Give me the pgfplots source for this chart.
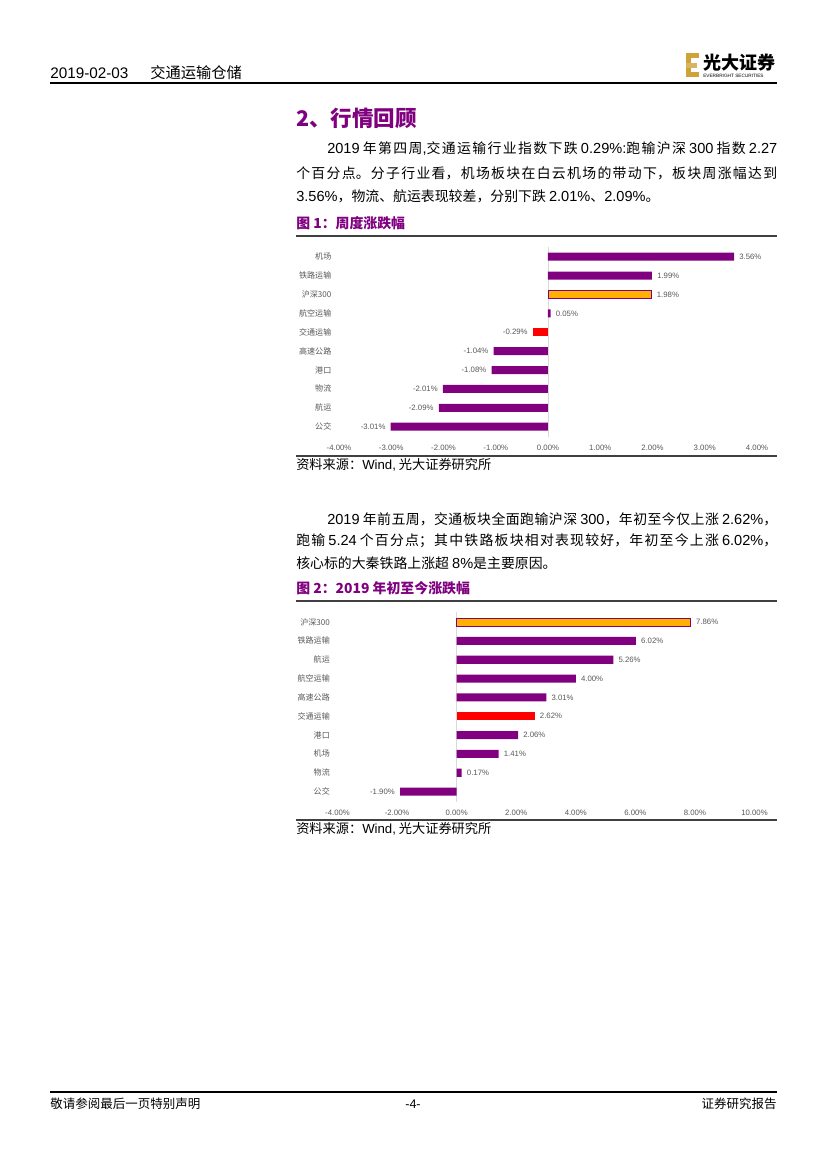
\documentclass[border=0pt]{standalone}
\usepackage{fontspec}
\setmainfont{Liberation Sans}
\newfontfamily\cjk{Noto Sans CJK SC}
\newfontfamily\lat{Liberation Sans}
\usepackage{pgfplots}
\pgfplotsset{compat=1.18}
\XeTeXlinebreaklocale "zh"
\XeTeXlinebreakskip=0pt plus 1fil

\definecolor{pur}{RGB}{128,0,128}
\definecolor{amber}{RGB}{255,176,0}
\definecolor{bred}{RGB}{255,0,0}
\definecolor{gold}{RGB}{206,163,56}
\definecolor{lbl}{RGB}{89,89,89}

\newdimen\pxu \pxu=0.72pt
% one justified line of body text: x, y, width, text
\newcommand\jl[4]{\node[body] at (#1,#2) {\parbox[b]{#3\pxu}{\parfillskip=0pt\relax #4}};}
% Latin numbers in the body text
\newcommand\N[1]{{\lat\fontsize{10.5}{12}\selectfont #1}}

\pgfplotsset{
  barchart/.style={
    xbar, bar width=5.8pt, bar shift=0pt,
    scale only axis, anchor=south west,
    axis line style={draw=none},
    major tick length=0pt,
    y dir=reverse,
    ytick={0,...,9}, ymin=-0.53, ymax=9.53,
    yticklabel style={font=\cjk\fontsize{5.8}{6}\selectfont, text=lbl, xshift=-2pt},
    xticklabel style={font=\fontsize{5.6}{6}\selectfont, text=lbl, yshift=-2.5pt},
    xticklabel={\pgfmathprintnumber[fixed,fixed zerofill,precision=2,assume math mode=true]{\tick}\%},
    point meta=x,
    nodes near coords={\pgfmathprintnumber[fixed,fixed zerofill,precision=2,assume math mode=true]{\pgfplotspointmeta}\%},
    nodes near coords style={font=\fontsize{5.6}{6}\selectfont, text=lbl, inner xsep=3.6pt, inner ysep=0pt},
    extra x ticks={0}, extra x tick labels={},
    extra x tick style={grid=major, major grid style={draw=black!15, line width=0.5pt}},
    clip=false,
  }
}

\begin{document}
\begin{tikzpicture}[x=0.72pt, y=-0.72pt,
  body/.style={anchor=west, inner sep=0pt, font=\cjk\fontsize{10}{12}\selectfont}]
\path[fill=white] (0,0) rectangle (827,1169);

% header
\node[anchor=west, inner sep=0pt, font=\fontsize{11}{13}\selectfont] at (50,73) {2019-02-03};
\node[anchor=west, inner sep=0pt, font=\cjk\fontsize{11}{13}\selectfont] at (150,73) {交通运输仓储};
\draw[line width=1.1pt] (50,83) -- (777,83);
% logo
\fill[gold] (686,53) rectangle (691,77);
\fill[gold] (686,53) rectangle (699,58);
\fill[gold!80] (686,62.5) rectangle (697,67.5);
\fill[gold] (686,72) rectangle (699,77);
\node[anchor=west, inner sep=0pt, font=\cjk\bfseries\fontsize{13}{14}\selectfont] at (703,63) {光大证券};
\node[anchor=west, inner sep=0pt, font=\fontsize{3.4}{4}\selectfont] at (703,75.5) {EVERBRIGHT SECURITIES};

% section title
\node[anchor=west, inner sep=0pt, text=pur, font=\cjk\bfseries\fontsize{15.5}{18}\selectfont] at (296,118) {2、行情回顾};

% paragraph 1
\jl{327}{149}{450}{\N{2019} 年第四周\N{,}交通运输行业指数下跌 \N{0.29\%:}跑输沪深 \N{300} 指数 \N{2.27}}
\jl{296}{173}{481}{个百分点。分子行业看，机场板块在白云机场的带动下，板块周涨幅达到}
\node[body] at (296,196) {\N{3.56\%}，物流、航运表现较差，分别下跌 \N{2.01\%}、\N{2.09\%}。};

% figure 1
\node[anchor=west, inner sep=0pt, text=pur, font=\cjk\bfseries\fontsize{10}{12}\selectfont] at (296,223) {图 1：周度涨跌幅};
\draw[black!75, line width=0.8pt] (296,236) -- (777,236);

\begin{axis}[barchart, at={(244.08pt,-314.42pt)},
  width=300.96pt, height=136.8pt,
  xmin=-4, xmax=4, xtick={-4,...,4},
  yticklabels={机场,铁路运输,沪深300,航空运输,交通运输,高速公路,港口,物流,航运,公交}]
\addplot[fill=pur, draw=none] coordinates {
  (3.56,0) (1.99,1) (0.05,3) (-1.04,5) (-1.08,6) (-2.01,7) (-2.09,8) (-3.01,9)};
\addplot[fill=amber, draw=pur, line width=0.6pt] coordinates {(1.98,2)};
\addplot[fill=bred, draw=none] coordinates {(-0.29,4)};
\end{axis}

\draw[black!75, line width=0.8pt] (296,456) -- (777,456);
\node[anchor=west, inner sep=0pt, font=\cjk\fontsize{9.5}{11}\selectfont] at (296,465) {资料来源：{\lat Wind,} 光大证券研究所};

% paragraph 2
\jl{327}{519}{450}{\N{2019} 年前五周，交通板块全面跑输沪深 \N{300}，年初至今仅上涨 \N{2.62\%}，}
\jl{296}{541}{481}{跑输 \N{5.24} 个百分点；其中铁路板块相对表现较好，年初至今上涨 \N{6.02\%}，}
\node[body] at (296,563) {核心标的大秦铁路上涨超 \N{8\%}是主要原因。};

% figure 2
\node[anchor=west, inner sep=0pt, text=pur, font=\cjk\bfseries\fontsize{10}{12}\selectfont] at (296,588) {图 2：2019 年初至今涨跌幅};
\draw[black!75, line width=0.8pt] (296,601) -- (777,601);

\begin{axis}[barchart, at={(243pt,-577.1pt)},
  width=300.24pt, height=136.4pt,
  xmin=-4, xmax=10, xtick={-4,-2,...,10},
  yticklabels={沪深300,铁路运输,航运,航空运输,高速公路,交通运输,港口,机场,物流,公交}]
\addplot[fill=pur, draw=none] coordinates {
  (6.02,1) (5.26,2) (4.00,3) (3.01,4) (2.06,6) (1.41,7) (0.17,8) (-1.90,9)};
\addplot[fill=amber, draw=pur, line width=0.6pt] coordinates {(7.86,0)};
\addplot[fill=bred, draw=none] coordinates {(2.62,5)};
\end{axis}

\draw[black!75, line width=0.8pt] (296,820) -- (777,820);
\node[anchor=west, inner sep=0pt, font=\cjk\fontsize{9.5}{11}\selectfont] at (296,829) {资料来源：{\lat Wind,} 光大证券研究所};

% footer
\draw[line width=0.9pt] (50,1092) -- (777,1092);
\node[anchor=west, inner sep=0pt, font=\cjk\fontsize{9}{11}\selectfont] at (50,1104) {敬请参阅最后一页特别声明};
\node[inner sep=0pt, font=\fontsize{9}{11}\selectfont] at (413,1104) {-4-};
\node[anchor=east, inner sep=0pt, font=\cjk\fontsize{9}{11}\selectfont] at (777,1104) {证券研究报告};
\end{tikzpicture}
\end{document}
